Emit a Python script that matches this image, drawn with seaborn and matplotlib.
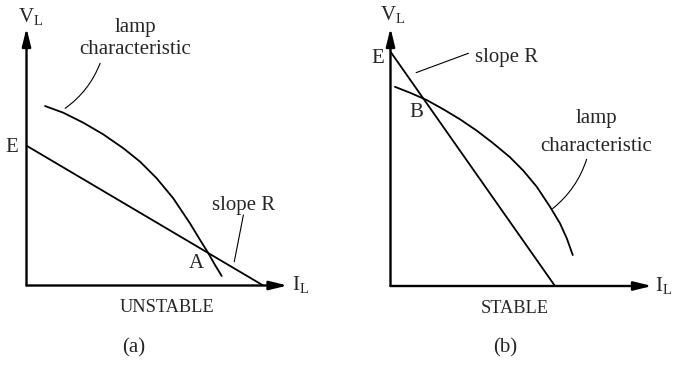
import matplotlib
matplotlib.use("Agg")
import matplotlib.pyplot as plt
import seaborn as sns
import pandas as pd

# ---------------- data (I_L, V_L in arbitrary units, 0..10) ----------------
# panel (a) UNSTABLE
lamp_a_I = [0.71, 1.41, 2.18, 2.94, 3.71, 4.35, 4.99, 5.62, 6.26, 6.65, 6.97, 7.22, 7.48]
lamp_a_V = [6.97, 6.71, 6.32, 5.87, 5.33, 4.81, 4.16, 3.39, 2.42, 1.77, 1.25, 0.80, 0.37]
load_a_I = [0.0, 9.07]
load_a_V = [5.43, 0.0]

# panel (b) STABLE
lamp_b_I = [0.17, 0.75, 1.38, 2.02, 2.66, 3.30, 3.93, 4.57, 5.08, 5.59, 6.10, 6.48, 6.74, 6.97]
lamp_b_V = [7.72, 7.49, 7.21, 6.85, 6.46, 6.02, 5.53, 4.99, 4.47, 3.85, 3.07, 2.43, 1.85, 1.20]
load_b_I = [0.0, 6.29]
load_b_V = [9.08, 0.0]

panel_labels = ["(a)", "(b)"]
panel_titles = ["UNSTABLE", "STABLE"]
point_labels = ["A", "B"]

# ---------------- style ----------------
sns.set_theme(style="white")
plt.rcParams["font.family"] = ["Liberation Serif", "DejaVu Serif"]
plt.rcParams["mathtext.fontset"] = "custom"
plt.rcParams["mathtext.rm"] = "Liberation Serif"

W, H = 683, 367
fig = plt.figure(figsize=(W / 100, H / 100), dpi=100)
fig.patch.set_facecolor("white")


def make_axes(x0, x1, y0, y1):
    ax = fig.add_axes([x0 / W, (H - y0) / H, (x1 - x0) / W, (y0 - y1) / H])
    ax.set_xlim(0, 10)
    ax.set_ylim(0, 10)
    ax.axis("off")
    return ax


ax_a = make_axes(26.5, 287.5, 285.5, 28)
ax_b = make_axes(390.5, 652, 286, 28)

FS = 15
FS_T = 13.2
LW_CURVE = 1.3
LW_AXIS = 1.7
LEAD = dict(arrowstyle="-", lw=0.8, color="black", shrinkA=0, shrinkB=0)


def draw_axes_arrows(ax):
    kw = dict(arrowstyle="-|>,head_length=0.9,head_width=0.22", color="black",
              lw=LW_AXIS, shrinkA=0, shrinkB=0)
    ax.annotate("", xy=(10, 0), xytext=(0, 0), arrowprops=kw, annotation_clip=False)
    ax.annotate("", xy=(0, 10), xytext=(0, 0), arrowprops=kw, annotation_clip=False)


def draw_curve(ax, xs, ys):
    df = pd.DataFrame({"I": xs, "V": ys})
    sns.lineplot(data=df, x="I", y="V", ax=ax, color="black", lw=LW_CURVE,
                 sort=False, estimator=None)
    ax.axis("off")
    ax.set_xlim(0, 10)
    ax.set_ylim(0, 10)


# ---------------- panel (a) ----------------
ax = ax_a
draw_curve(ax, lamp_a_I, lamp_a_V)
draw_curve(ax, load_a_I, load_a_V)
draw_axes_arrows(ax)
ax.text(-0.33, 10.23, r"V$_\mathregular{L}$", fontsize=FS, ha="left", va="baseline")
ax.text(10.17, -0.2, r"I$_\mathregular{L}$", fontsize=FS, ha="left", va="baseline")
ax.text(-0.33, 5.36, "E", fontsize=FS, ha="right", va="center")
ax.text(4.16, 9.86, "lamp", fontsize=FS, ha="center", va="baseline")
ax.text(4.16, 8.99, "characteristic", fontsize=FS, ha="center", va="baseline")
ax.annotate("", xy=(1.48, 6.88), xytext=(2.82, 8.63),
            arrowprops=dict(LEAD, connectionstyle="arc3,rad=-0.15"))
ax.text(8.33, 2.93, "slope R", fontsize=FS, ha="center", va="baseline")
ax.annotate("", xy=(7.96, 0.92), xytext=(8.31, 2.74), arrowprops=LEAD)
ax.text(6.51, 0.85, point_labels[0], fontsize=FS, ha="center", va="center")
ax.text(5.37, -0.85, panel_titles[0], fontsize=FS_T, ha="center", va="center")
ax.text(4.09, -2.44, panel_labels[0], fontsize=FS, ha="center", va="center")

# ---------------- panel (b) ----------------
ax = ax_b
draw_curve(ax, lamp_b_I, lamp_b_V)
draw_curve(ax, load_b_I, load_b_V)
draw_axes_arrows(ax)
ax.text(-0.40, 10.31, r"V$_\mathregular{L}$", fontsize=FS, ha="left", va="baseline")
ax.text(10.1, -0.2, r"I$_\mathregular{L}$", fontsize=FS, ha="left", va="baseline")
ax.text(-0.25, 8.80, "E", fontsize=FS, ha="right", va="center")
ax.text(4.42, 8.69, "slope R", fontsize=FS, ha="center", va="baseline")
ax.annotate("", xy=(0.98, 8.27), xytext=(2.98, 9.02), arrowprops=LEAD)
ax.text(0.99, 6.72, point_labels[1], fontsize=FS, ha="center", va="center")
ax.text(7.88, 6.31, "lamp", fontsize=FS, ha="center", va="baseline")
ax.text(7.88, 5.23, "characteristic", fontsize=FS, ha="center", va="baseline")
ax.annotate("", xy=(6.20, 3.0), xytext=(7.50, 4.91),
            arrowprops=dict(LEAD, connectionstyle="arc3,rad=-0.15"))
ax.text(4.76, -0.86, panel_titles[1], fontsize=FS_T, ha="center", va="center")
ax.text(4.38, -2.41, panel_labels[1], fontsize=FS, ha="center", va="center")

fig.savefig("out.png", dpi=100, facecolor="white")
